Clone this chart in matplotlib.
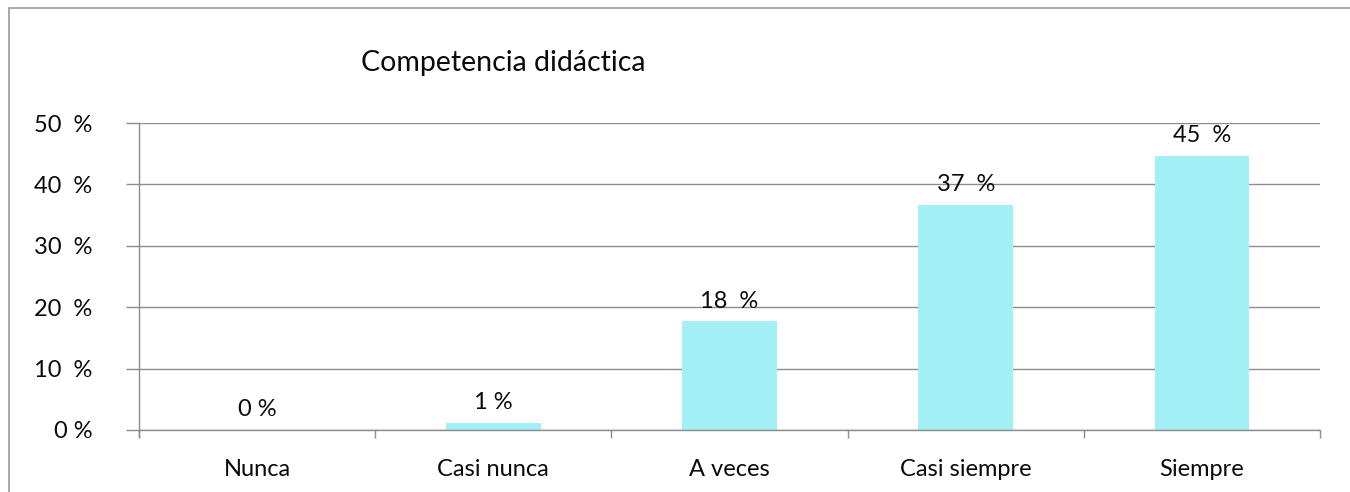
import matplotlib
matplotlib.use("Agg")
import matplotlib.pyplot as plt
from matplotlib.patches import Rectangle
import numpy as np

categories = ["Nunca", "Casi nunca", "A veces", "Casi siempre", "Siempre"]
values = [0, 1.2, 17.7, 36.7, 44.7]
value_labels = ["0 %", "1 %", "18  %", "37  %", "45  %"]
yticks = [0, 10, 20, 30, 40, 50]
ytick_labels = ["0 %", "10  %", "20  %", "30  %", "40  %", "50  %"]
title = "Competencia didáctica"

plt.rcParams['font.family'] = ['Lato', 'DejaVu Sans']
grey = '#8c8c8c'
bar_color = '#a2eff5'
txt = '#0a0a0a'
fs = 17

W, H = 1350, 492
fig = plt.figure(figsize=(W / 100, H / 100), dpi=100)

# outer frame of the chart object (runs off right / bottom of the image)
fig.patches.append(Rectangle((9 / W, -0.1), 1.2, 1 - 8 / H + 0.1,
                             transform=fig.transFigure, fill=False,
                             edgecolor='#9a9a9a', lw=1.2))

ax = fig.add_axes([139 / W, 1 - 430 / H, (1320 - 139) / W, (430 - 123) / H])
x = np.arange(len(categories))
ax.bar(x, values, width=0.4, color=bar_color, zorder=2)

for xi, v, lab in zip(x, values, value_labels):
    ax.annotate(lab, (xi, v), xytext=(0, 14.5), textcoords='offset points',
                ha='center', va='center', fontsize=fs, color=txt)

ax.set_xlim(-0.5, len(categories) - 0.5)
ax.set_ylim(0, 50)
ax.set_yticks(yticks)
ax.set_yticklabels(ytick_labels)
ax.yaxis.grid(True, color=grey, lw=1.0, zorder=0)
ax.tick_params(axis='y', length=9.5, color=grey, width=1.0, pad=24,
               labelsize=fs, labelcolor=txt)

ax.set_xticks(np.arange(len(categories) + 1) - 0.5)
ax.set_xticklabels([])
ax.set_xticks(x, minor=True)
ax.set_xticklabels(categories, minor=True)
ax.tick_params(axis='x', which='major', length=6, color=grey, width=1.0)
ax.tick_params(axis='x', which='minor', length=0, pad=21,
               labelsize=fs, labelcolor=txt)

for s in ['top', 'right']:
    ax.spines[s].set_visible(False)
ax.spines['left'].set_color(grey)
ax.spines['bottom'].set_color(grey)
ax.spines['left'].set_linewidth(1.0)
ax.spines['bottom'].set_linewidth(1.0)
ax.spines['left'].set_bounds(-1.2, 50)
ax.spines['left'].set_clip_on(False)

fig.text(361 / W, 1 - 63 / H, title, ha='left', va='center',
         fontsize=20.5, color=txt)

fig.savefig("out.png", dpi=100)
